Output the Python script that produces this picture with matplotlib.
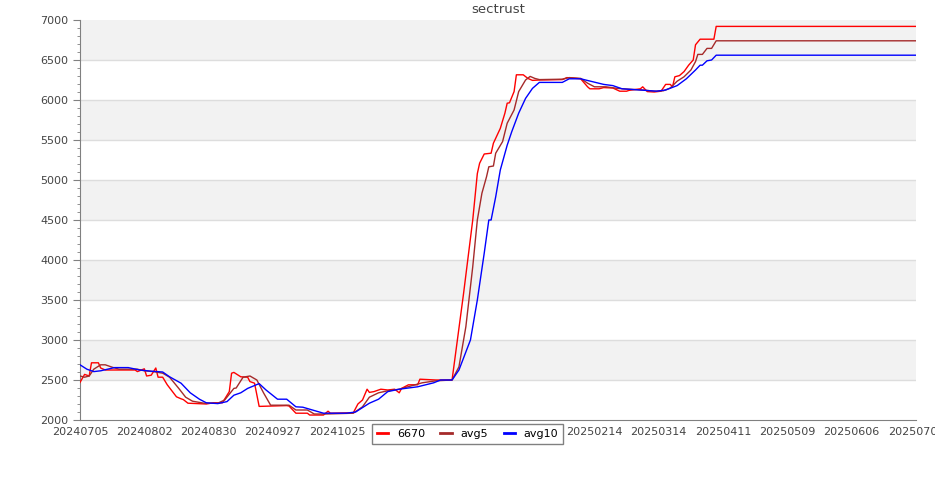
import matplotlib
matplotlib.use('Agg')
import matplotlib.pyplot as plt
import numpy as np
import pandas as pd

start = pd.Timestamp('2024-07-05')

# days since 20240705
d_6670 = [0, 2, 4, 5, 8, 9, 11, 24, 25, 28, 29, 31, 33, 34, 36, 38, 42, 44, 45, 47,
          55, 58, 62, 65, 66, 67, 70, 73, 74, 76, 78, 90, 91, 94, 99, 100, 106, 108, 109,
          119, 121, 123, 125, 126, 128, 131, 134, 137, 139, 140, 143, 147, 148, 155, 162,
          167, 171, 173, 174, 176, 179, 180, 183, 185, 186, 187, 189, 190, 193, 195, 197,
          200, 210, 212, 218, 221, 222, 226, 228, 232, 235, 238, 239, 244, 245, 247, 250,
          253, 255, 257, 258, 259, 261, 263, 265, 267, 268, 270, 276, 277, 364]
v_6670 = [2470, 2570, 2550, 2715, 2715, 2650, 2625, 2625, 2605, 2640, 2550, 2560, 2650, 2535, 2535, 2440, 2290, 2265, 2255, 2210,
          2200, 2215, 2215, 2355, 2585, 2595, 2540, 2535, 2480, 2460, 2170, 2180, 2175, 2085, 2085, 2062, 2062, 2110, 2085,
          2090, 2200, 2250, 2385, 2345, 2355, 2385, 2375, 2385, 2340, 2395, 2440, 2440, 2510, 2500, 2500,
          3580, 4500, 5080, 5210, 5325, 5335, 5460, 5645, 5835, 5960, 5965, 6105, 6315, 6315, 6270, 6245,
          6250, 6255, 6280, 6265, 6165, 6140, 6140, 6155, 6150, 6110, 6110, 6120, 6140, 6165, 6105, 6100,
          6110, 6195, 6195, 6165, 6290, 6305, 6355, 6435, 6500, 6690, 6760, 6760, 6920, 6920]

d_avg5 = [0, 2, 4, 6, 9, 11, 14, 17, 25, 28, 32, 36, 39, 43, 46, 49, 54, 60, 63, 67, 68,
          71, 74, 77, 80, 83, 91, 94, 99, 102, 107, 119, 123, 126, 130, 134, 139, 144, 149,
          155, 162, 165, 168, 171, 173, 175, 177, 178, 180, 181, 184, 186, 189, 191, 194,
          196, 198, 200, 210, 213, 218, 221, 224, 229, 234, 239, 245, 250, 254, 257, 260,
          263, 266, 268, 269, 271, 273, 275, 277, 364]
v_avg5 = [2550, 2535, 2550, 2635, 2690, 2690, 2660, 2635, 2635, 2615, 2605, 2585, 2535, 2395, 2285, 2235, 2210, 2210, 2250, 2395, 2400,
          2535, 2550, 2500, 2335, 2185, 2185, 2125, 2125, 2075, 2075, 2085, 2165, 2285, 2340, 2365, 2385, 2425, 2465,
          2490, 2500, 2665, 3165, 3915, 4500, 4835, 5040, 5165, 5175, 5335, 5480, 5710, 5875, 6105, 6250,
          6295, 6270, 6255, 6260, 6280, 6270, 6210, 6165, 6165, 6145, 6135, 6125, 6110, 6115, 6150, 6235,
          6290, 6375, 6480, 6570, 6570, 6645, 6645, 6740, 6740]

d_avg10 = [0, 3, 6, 9, 12, 15, 21, 26, 31, 36, 39, 44, 48, 52, 55, 60, 64, 67, 70, 73, 78,
           81, 86, 90, 94, 97, 106, 116, 120, 126, 130, 134, 139, 147, 154, 157, 162, 165,
           170, 173, 176, 178, 179, 181, 183, 186, 188, 191, 194, 197, 200, 210, 213, 218,
           223, 228, 232, 236, 244, 251, 255, 260, 264, 268, 270, 271, 273, 275, 277, 364]
v_avg10 = [2690, 2635, 2605, 2615, 2635, 2655, 2655, 2625, 2610, 2600, 2540, 2460, 2340, 2260, 2215, 2205, 2230, 2310, 2340, 2395, 2455,
           2375, 2260, 2260, 2165, 2160, 2085, 2085, 2100, 2210, 2260, 2355, 2385, 2415, 2465, 2500, 2500, 2625,
           3000, 3500, 4085, 4500, 4500, 4790, 5125, 5435, 5605, 5835, 6020, 6145, 6220, 6220, 6265, 6265,
           6230, 6195, 6180, 6140, 6125, 6110, 6125, 6180, 6265, 6375, 6435, 6435, 6490, 6500, 6560, 6560]

tick_days = list(range(0, 365, 28))
tick_labels = [(start + pd.Timedelta(days=d)).strftime('%Y%m%d') for d in tick_days]

fig = plt.figure(figsize=(9.35, 5), dpi=100)
ax = fig.add_axes([80/935, 80/500, 836/935, 400/500])

# alternating bands
for lo in range(2000, 7000, 500):
    if (lo // 500) % 2 == 1:
        ax.axhspan(lo, lo + 500, color='#f2f2f2', lw=0, zorder=0)
for y in range(2500, 7000, 500):
    ax.axhline(y, color='#dddddd', lw=1, zorder=1)

ax.plot(d_6670, v_6670, color='#ff0000', lw=1, label='6670', zorder=3)
ax.plot(d_avg5, v_avg5, color='#a52a2a', lw=1, label='avg5', zorder=3)
ax.plot(d_avg10, v_avg10, color='#0000ff', lw=1, label='avg10', zorder=3)

ax.set_xlim(0, 364)
ax.set_ylim(2000, 7000)
ax.set_xticks(tick_days)
ax.set_xticklabels(tick_labels)
ax.set_yticks(range(2000, 7001, 500))
ax.set_yticks(range(2000, 7001, 100), minor=True)
ax.tick_params(axis='x', length=0, pad=5, labelsize=8, labelcolor='#444444')
ax.tick_params(axis='y', which='major', length=5, color='#808080', labelsize=8, labelcolor='#444444')
ax.tick_params(axis='y', which='minor', length=2, color='#808080')

for s in ['top', 'right']:
    ax.spines[s].set_visible(False)
for s in ['left', 'bottom']:
    ax.spines[s].set_color('#808080')

ax.set_title('sectrust', fontsize=9.5, color='#444444', pad=5)

leg = fig.legend(loc='upper center', bbox_to_anchor=(0.5, 1 - 424/500), ncol=3,
                 fontsize=8, frameon=True, fancybox=False, edgecolor='#808080',
                 framealpha=1, handlelength=1.0, handletextpad=0.8, columnspacing=1.4,
                 borderpad=0.45, borderaxespad=0)
leg.get_frame().set_linewidth(1)
for h in leg.legend_handles:
    h.set_linewidth(2)

fig.savefig('out.png', dpi=100)
